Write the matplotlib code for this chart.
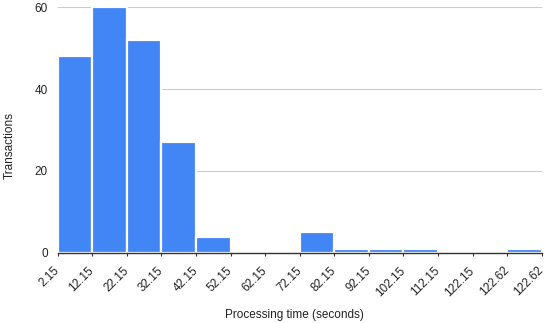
import matplotlib.pyplot as plt
from matplotlib.transforms import ScaledTranslation

# histogram bins (edge labels) and counts
edge_labels = ['2.15', '12.15', '22.15', '32.15', '42.15', '52.15', '62.15',
               '72.15', '82.15', '92.15', '102.15', '112.15', '122.15',
               '122.62', '122.62']
counts = [48, 60, 52, 27, 4, 0, 0, 5, 1, 1, 1, 0, 0, 1]

plt.rcParams['font.family'] = ['Liberation Sans', 'DejaVu Sans']

fig = plt.figure(figsize=(5.5, 3.23), dpi=100)
ax = fig.add_axes([0.105, 0.217, 0.88, 0.761])

xs = list(range(len(counts)))
ax.bar(xs, counts, width=1.0, align='edge', color='#4285F4',
       edgecolor='white', linewidth=1.6, zorder=3)

ax.set_xlim(0, len(counts))
ax.set_ylim(0, 60)
ax.set_yticks([0, 20, 40, 60])
ax.yaxis.grid(True, color='#cccccc', linewidth=0.8, zorder=0)

ax.set_xticks(range(len(edge_labels)))
ax.set_xticklabels(edge_labels, rotation=45, ha='right', va='center',
                   rotation_mode='anchor')
# nudge labels a little right, like the original
shift = ScaledTranslation(0.06, 0, fig.dpi_scale_trans)
for lab in ax.get_xticklabels():
    lab.set_transform(lab.get_transform() + shift)

for s in ['top', 'right', 'left']:
    ax.spines[s].set_visible(False)
ax.spines['bottom'].set_color('#333333')
ax.spines['bottom'].set_linewidth(1.0)
ax.spines['bottom'].set_zorder(4)

ax.tick_params(axis='y', length=0, labelsize=8.5, pad=7, colors='#222222')
ax.tick_params(axis='x', length=2, color='#333333', labelsize=8.5,
               labelcolor='#222222', pad=9.5)

ax.set_ylabel('Transactions', fontsize=8.5, color='#222222')
ax.yaxis.label.set_va('center')
ax.yaxis.set_label_coords(-0.1, 0.435)
ax.set_xlabel('Processing time (seconds)', fontsize=8.5, color='#222222')
ax.xaxis.label.set_va('center')
ax.xaxis.set_label_coords(0.49, -0.252)

fig.savefig('out.png', dpi=100)
